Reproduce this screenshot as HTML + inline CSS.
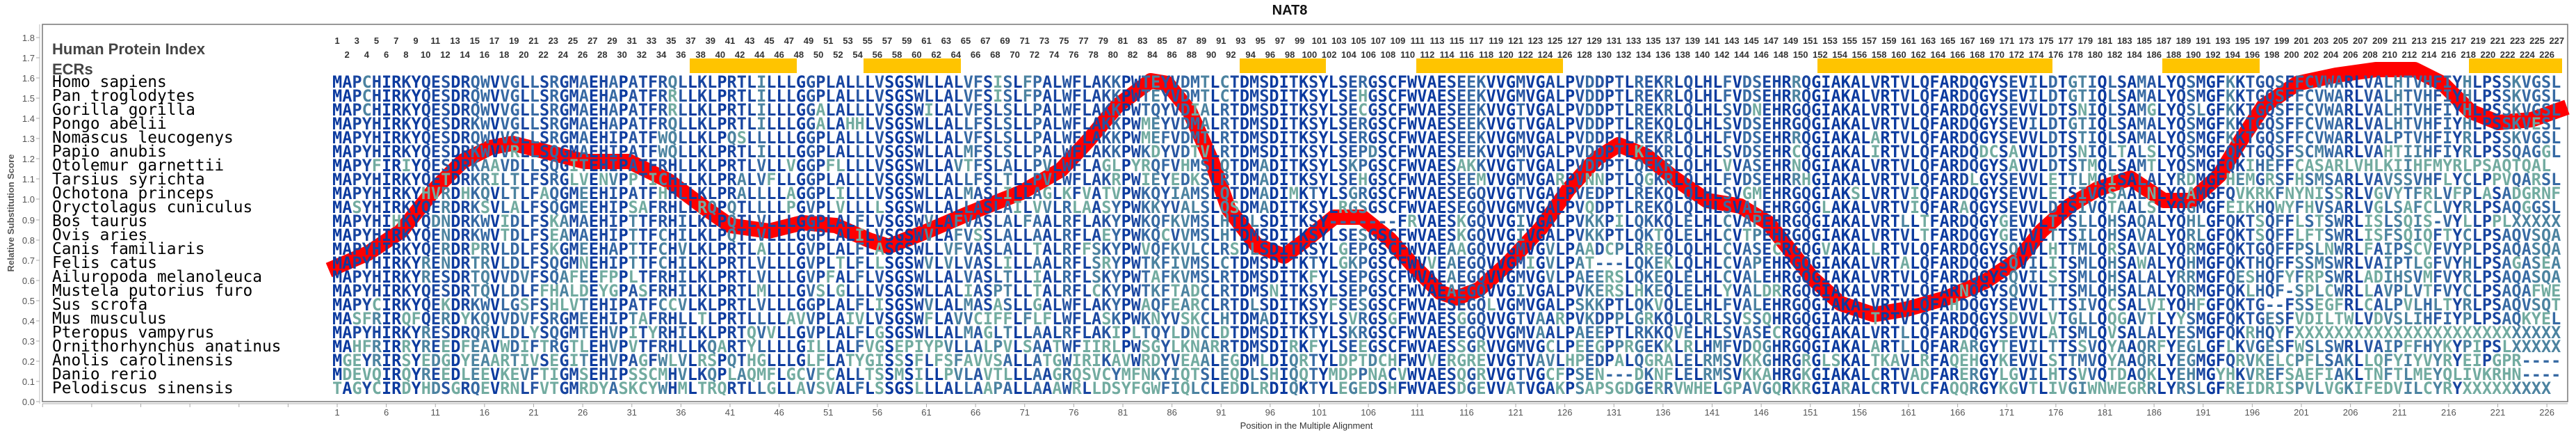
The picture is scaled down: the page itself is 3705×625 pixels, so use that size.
<!DOCTYPE html>
<html><head><meta charset="utf-8">
<style>
html,body{margin:0;padding:0;background:#fff;}
body{width:3705px;height:625px;position:relative;overflow:hidden;font-family:"Liberation Sans",sans-serif;}
svg{position:absolute;left:0;top:0;}
.seg{position:absolute;top:108px;font-family:"DejaVu Sans Mono",monospace;font-weight:bold;font-size:23.55px;line-height:20px;white-space:pre;overflow:hidden;color:#2a5aa0;}
.names{position:absolute;left:75px;top:108px;font-family:"DejaVu Sans Mono",monospace;font-size:22.8px;line-height:20px;white-space:pre;color:#000;}
</style></head><body>
<svg width="3705" height="625" xmlns="http://www.w3.org/2000/svg">
<rect x="61" y="35" width="3632" height="542" fill="none" stroke="#777" stroke-width="1.5"/>
<line x1="57" y1="35" x2="57" y2="580" stroke="#bbb" stroke-width="1"/>
<line x1="61" y1="580" x2="3693" y2="580" stroke="#aaa" stroke-width="1"/>
<g stroke="#aaa" stroke-width="1">
<line x1="52" y1="577" x2="57" y2="577"/><line x1="52" y1="548" x2="57" y2="548"/><line x1="52" y1="519" x2="57" y2="519"/><line x1="52" y1="490" x2="57" y2="490"/><line x1="52" y1="461" x2="57" y2="461"/><line x1="52" y1="432" x2="57" y2="432"/><line x1="52" y1="403" x2="57" y2="403"/><line x1="52" y1="374" x2="57" y2="374"/><line x1="52" y1="345" x2="57" y2="345"/><line x1="52" y1="316" x2="57" y2="316"/><line x1="52" y1="286" x2="57" y2="286"/><line x1="52" y1="257" x2="57" y2="257"/><line x1="52" y1="228" x2="57" y2="228"/><line x1="52" y1="199" x2="57" y2="199"/><line x1="52" y1="170" x2="57" y2="170"/><line x1="52" y1="141" x2="57" y2="141"/><line x1="52" y1="112" x2="57" y2="112"/><line x1="52" y1="83" x2="57" y2="83"/><line x1="52" y1="54" x2="57" y2="54"/>
</g>
<g id="xt" stroke="#aaa" stroke-width="1"></g>
<g fill="#ffc400">
<rect x="992" y="84" width="154" height="21"/>
<rect x="1242" y="84" width="140" height="21"/>
<rect x="1783" y="84" width="124" height="21"/>
<rect x="2037" y="84" width="211" height="21"/>
<rect x="2614" y="84" width="338" height="21"/>
<rect x="3110" y="84" width="140" height="21"/>
<rect x="3551" y="84" width="134" height="21"/>
</g>
<polyline fill="none" stroke="#ff0000" stroke-width="22" stroke-linejoin="round" points="473,388 529,364 577,332 625,272 665,232 705,212 737,206 777,216 841,232 905,232 962,260 1010,296 1050,324 1106,332 1154,320 1202,324 1250,345 1278,354 1334,332 1390,308 1470,276 1526,244 1567,200 1607,152 1655,116 1679,120 1711,160 1743,232 1767,300 1807,352 1847,368 1879,344 1919,312 1959,312 1999,344 2031,380 2071,420 2095,428 2127,416 2167,380 2216,328 2256,272 2296,228 2328,208 2368,224 2408,256 2455,288 2503,296 2543,320 2575,360 2607,400 2647,436 2695,452 2743,444 2800,428 2856,404 2904,372 2936,332 2976,296 3016,272 3064,256 3112,288 3152,288 3192,252 3224,200 3256,152 3304,120 3360,108 3417,100 3473,100 3513,120 3553,160 3593,176 3641,172 3692,154"/>
<g font-family="Liberation Sans" font-size="13" fill="#555" text-anchor="end">
<text x="50" y="582">0.0</text><text x="50" y="553">0.1</text><text x="50" y="524">0.2</text><text x="50" y="495">0.3</text><text x="50" y="466">0.4</text><text x="50" y="437">0.5</text><text x="50" y="408">0.6</text><text x="50" y="379">0.7</text><text x="50" y="350">0.8</text><text x="50" y="321">0.9</text><text x="50" y="291">1.0</text><text x="50" y="262">1.1</text><text x="50" y="233">1.2</text><text x="50" y="204">1.3</text><text x="50" y="175">1.4</text><text x="50" y="146">1.5</text><text x="50" y="117">1.6</text><text x="50" y="88">1.7</text><text x="50" y="59">1.8</text>
</g>
<text x="20" y="306" transform="rotate(-90 20 306)" font-family="Liberation Sans" font-size="13" font-weight="bold" fill="#555" text-anchor="middle">Relative Substitution Score</text>
<text x="1855" y="21" font-family="Liberation Sans" font-size="20" font-weight="bold" fill="#111" text-anchor="middle">NAT8</text>
<text x="1879" y="616" font-family="Liberation Sans" font-size="13" fill="#333" text-anchor="middle">Position in the Multiple Alignment</text>
<g id="xl" font-family="Liberation Sans" font-size="13" fill="#555" text-anchor="middle"></g>
<g id="hn" font-family="Liberation Sans" font-size="13" font-weight="bold" fill="#333" text-anchor="middle"></g>
<text x="75" y="78" font-family="Liberation Sans" font-size="22" font-weight="bold" fill="#444">Human Protein Index</text>
<text x="75" y="107" font-family="Liberation Sans" font-size="22" font-weight="bold" fill="#444">ECRs</text>
</svg>
<div class="names">Homo sapiens
Pan troglodytes
Gorilla gorilla
Pongo abelii
Nomascus leucogenys
Papio anubis
Otolemur garnettii
Tarsius syrichta
Ochotona princeps
Oryctolagus cuniculus
Bos taurus
Ovis aries
Canis familiaris
Felis catus
Ailuropoda melanoleuca
Mustela putorius furo
Sus scrofa
Mus musculus
Pteropus vampyrus
Ornithorhynchus anatinus
Anolis carolinensis
Danio rerio
Pelodiscus sinensis</div>
<div class="seg" id="sA" style="left:478px;width:752px">MAPCHIRKYQESDRQWVVGLLSRGMAEHAPATFRQLLKLPRTLILLLGGPLAL
MAPCHIRKYQESDRQWVVGLLSRGMAEHAPATFRRLLKLPRTLILLLGGPLAL
MAPCHIRKYQESDRQWVVGLLSRGMAEHAPATFRRLLKLPRTLILLLGGALAL
MAPYHIRKYQESDRKWVVGLLSRGMAEHAPATFRQLLKLPRTLILLLGGALAH
MAPYHIRKYQESDRQWVVGLLSRGMAEHIPATFWQLLKLPQSLLLLLGGPLAL
MAPYHIRKYQESDRKWVVRLLSQGMAEHIPATFWQLLKLPRTLILLLGGPLAL
MAPYFIRIYQESDRKAAVDLLSQGITEHIPATFRHLLKLPRTLVLLVGGPFLL
MAPYHIRKYQETDRKRILTLFSRGLVENVPPTICHLLKLPRALVFLLGGPLAL
MAPYHIRKYHVRDHKQVLTLFAQGMEEHIPATFHHLLKLPRALLLLAGGPLIL
MASYHIRKYQERDRKSVLALFSQGMEEHIPSAFRHLLRQPQTLLLLPGVPLVL
MAPYHIHKYQDNDRKWVIDLFSKAMAEHIPTTFRHILKLPQTLVLLLGGPLAL
MAPYHIRKYQENDRKWVTDLFSEAMAEHIPTTFCHILKLPQTLVLLLGGPLAL
MAPYHIRKYQERDRPRVLDLFSKGMEEHAPTTFCHVLKLPRTLALLLGVPLAL
MAPYHIRKYRENDRTRVLDLFSQGMNEHIPTTFCHILKLPRTLVLLLGVPLTL
MAPYHIRKYRESDRTQVVDVFSQAFEEFPPLTFRHILKLPRTLVLLLGVPFAL
MAPYHIRKYQESDRTQVLDLFFHALDEYGPASFRHILKLPRTLMLLLGVSLGL
MAPYCIRKYQEKDRKWVLGSFSHLVTEHIPATFCCVLKLPRTLVLLLGGPLAL
MASFRIRQFQERDYKQVVDVFSRGMEEHIPTAFRHLLTLPRTLLLLAVVPLAI
MAPYHIRKYRESDRQRVLDLYSQGMTEHVPITYRHILKLPRTQVVLLGVPLAL
MAHFRIRRYREEDFEAVWDIFTRGTLEHVPVTFRHLLKQARTYLLLLGILLAL
MGEYRIRSYEDGDYEAARTIVSEGITEHVPAGFWLVLRSPQTHGLLLGLFLAT
MDEVQIRQYREEDLEEVKEVFTIGMSEHIPSSCMHVLKQPLAQMFLGCVFCAL
TAGYCIRDYHDSGRQEVRNLFVTGMRDYASKCYWHMLTRQRTLLGLLAVSVAL</div>
<div class="seg" id="sB" style="left:1229.5px;width:1220px">LLVSGSWLLALVFSISLFPALWFLAKKPWTEYVDMTLCTDMSDITKSYLSERGSCFWVAESEEKVVGMVGALPVDDPTLREKRLQLF
LLVSGSWLLALVFSISLFPALWFLAKKPWTEYVDMTLCTDMSDITKSYLSEHGSCFWVAESEEKVVGMVGALPVDDPTLREKRLQLF
LLVSGSWILALVFSLSLLPALWFLAKKPWTQYVDIALRTDMSDITKSYLSECGSCFWVAESEEKVVGTVGALPVDDPTLREKRLQLF
HLVSGSWLLALLFSLSLLPALWFLAKKPWMEYVDMALRTDMSDITKSYLSERGSCFWVAESEEKVVGTVGALPVDDPTLREKQLQLF
LLVSGSWLLALVFSLSLLPALWFLAKKPWMEFVDMTLRTDMSDITKSYLSERGSCFWVAESEEKVVGMVGALPVDDPTLREKRLQLF
LLVSGSWLLALMFSLSLLPALWFLAKKPWKDYVDTVLRTDMSDITKSYLSEPDSCFWVAESEEKVVGMVGALPVDDPTLKEKRLQLF
LLVSGSWLLAVTFSLALLPVLWFLAGLPYRQFVHMSLQTDMADITKSYLSKPGSCFWVAESAKKVVGTVGALPVDDPTLQEKRLQLF
LLVSGSWLLALLFSLTLLPVLWFLAKRPWIEYEDKSLRTDMADITKSYLSEHGSCFWVAESEEMVVGMVGARPVNNPTLQGKRLQLF
LLVSGSWLLALMASLILLAGLKFVATVPWKQYIAMSLQTDMADIMKTYLSGRGSCFWVAESEGQVVGTVGALPVEDPTLREKQLQLF
LLLSGSWLLALLASLAILVVLRLAASYPWKKYVALSLQSDMADITKSYLRGSGSCFWVAESEGQVVGMVGALPVQDPTLREKQLQLF
FLVSGSWVLAFVASLALFAALRFLAKYPWKQFKVMSLHTDLSDITKSY-------FRVAESKGQVVGIVGALPVKKPILQKKQLELL
ILVSGSWVLAFVSSLALLAALRFLAEYPWKQCVVMSLHTDMSDITKSYLSESGSCFWVAESKGQVVGIVGALPVKKPTLQKTQLELL
FLASGSWLLVFVASLALLTALRFFSKYPWVQFKVLCLRSDLSDITKSYLGEPGSCFWVAEAAGQVVGMVGVLPAADCPLRREQLQLF
FLLSGSWVLVLVASLILLAALRFLSRYPWTKFIVMSLCTDMSDITKTYLGKPGSCFWVVEAEGQVVGMIGVLPAT---LQKEKLQLL
FLVSGSWLLALVASLTLLIALRFLSKYPWTAFKVMSLRTDMSDITKFYLSEPGSCFWVAEAEGQVVGMVGVLPAEERSLQKEQLELF
LLVSGSWLLALIASPTLLTALRFLCKYPWTKFTADCLRTDMSNITKSYLSEPGSCFWVAEAEGQVVGIVGALPVKERSLHKEQLELL
FLISGSWVLALMASASLLGALWFLAKYPWAQFEARCLRTDLSDITKSYFSESGSCFWVAESEGQLVGMVGALPSKKPTLQKVQLELL
VLVSGSWFLAVVCIFFLFLFLWFLASKPWKNYVSKCLHTDMADITKSYLSVRGSGFWVAESGGQVVGTVAARPVKDPPLGRKQLQLF
FLGSGSWLLALMAGLTLLAALRFLAKIPLTQYLDNCLDTDMSDITKTYLSKRGSCFWVAESEGQVVGMVAALPAEEPTLRKKQVELF
FVGSEPIYPVLLALPVLSAATWFIIRLPWSGYLKNARRTDMSDIRKFYLSEEGSCFWVAESSGRVVGMVGCLPEEGPPRGEKKLRLL
YGISSSFLFSFAVVSALLATGWIRIKAVWRDYVEAALEGDMLDIQRTYLDPTDCHFWVVERGREVVGTVAVLHPEDPALQGRALELK
LTSSMSILLPVLAVTLLLAAGRQSVCYMFNKYIQTSLEQDLSHIQQTYMDPPNACVWVAESQGRVVGTVGCFPSEN---DKNFLELK
FLSSGSLLLALLAAPALLAAAWRLLDSYFGWFIQLCLEDDLRDIQKTYLEGEDSHFWVAESDGEVVATVGAKPSAPSGDGERRVWHA</div>
<div class="seg" id="sC" style="left:2449px;width:1237px">HLFVDSEHRRQGIAKALVRTVLQFARDQGYSEVILDTGTIQLSAMALYQSMGFKKTGQSFFCVWARLVALHTVHFIYHLPSSKVGSL
HLFVDSEHRRQGIAKALVRTVLQFARDQGYSEVILDTGTIQLSAMALYQSMGFKKTGQSFFCVWARLVALHTVHFIYHLPSSKVGSL
HLSVDNEHRGQGIAKALVRTVLQFARDQGYSEVVLDTSNIQLSAMGLYQSLGFKKTGQSFFCVWARLVALHTVHFIYHLPSSKVGSL
HLSVDSEHRGQGIAKALVRTVLQFARDQGYSEVILDTGTIQLSAMALYQSMGFKKTGQSFFCVWARLVALHTVHFIYHLPSSKVESL
HLFVDSEHRRQGIAKALARTVLQFARDQGYSEVVLDTSTIQLSAMALYQSMGFKKTGQSFFCVWARLVALPTVHFIYRLPSSKVGSL
HLSVDSEHRCQGIAKALIRTVLQFARDQDCSAVVLDTSNIQLTALSLYQSMGFQKTGQSFSCMWARLVAHTIIHFIYRLPSSQAGGL
HLVVASEHRNQGIAKALVRTVLQFARDQGYSAVVLDTSTMQLSAMTLYQSMGFQKIHEFFCASARLVHLKIIHFMYRLPSAQTQAL
HLFVDSEHRRHGIAKALVRTVLQFARDLGYSEVVLETTLMQISALALYRDMGFHEMGRSFHSMSARLVAVSSVHFLYCLPPVQARSL
HLSVGMEHRGQGIAKSLVRTVIQFARDQGYSEVVLETSIVQSAALNLYQAMGFQVKRKFNYNISSRLVGVYTFRLVFPLASADGRNF
HLSVALEHRGQGLAKALVRTVIQFARAQGYSEVVLDTSIVQTAALSLYQGMGFEIKHQWYFHVSARLVGLSAFCLVYRLPSAQGGSL
HLCVAPEHRGQGIAKALVRTLLTFARDQGYGEVVLTTSLLQHSAQALYQHLGFQKTSQFFLSTSWRLISLSQIS-VYLLPPLXXXXX
HLCVTPEHRGQGIAKALVRTVLTFARDQGYGEVVLTTSILQHSAVALYQRLGFQKTSQFFLFTSWRLISFSQIQFTYCLPSAQVSQA
HLCVASECRGQGVAKALLRTVLQFARDQGYSQVVLHTTMLQRSAVALYQRMGFQKTGQFFPSLNWRLFAIPSCVFVYPLPSAQASQA
HLCVAPEHRGQGIAKALVRTALQFARDQGYSQVILITSMLQHSAWALYQHMGFQKTHQFFSSMSWRLVAIPTLGFVYHLPSAGASEA
HLCVALEHRGQGIAKALVRTVLQFARDQGYSQVILSTSMLQHSALALYRRMGFQESHQFYFRPSWRLADIHSVMFVYRLPSAQASQA
HLYVALDRRGQGIAKALVRTVLQFARNQGYSQVVLTTSMLQHSALALYQRMGFQKLHQF-SPLCWRLLAVPLVTFVYCLPSAQAFWE
HLFVALEHRGQGIAKALVRTVLQFAHDQGYSEVVLTTSIVQCSALVIYQHFGFQKTG--FSSEGFRLCALPVLHLTYRLPSAQVSQT
RLSVSSQHRGQGIAKALTRTVLQFARDQGYSDVVLVTGLLQQGAVTLYYSMGFQKTGESFVDILTWLVDVSLIHFIYPLPSAQKYEL
HLSVASECRGQGIAKALVRTLLQFARDQGYSEVVLATSMLQVSALALYESMGFQKRHQYFXXXXXXXXXXXXXXXXXXXXXXXXXXX
HMFVDQGHRGQGIAKALARTLLQFARARGYTEVILTTSSVQYAAQRFYEGLGFLKVGESFWSLSWRLVAIPFFHYKYPIPSLXXXXX
RMSVKKGHRGRGLSKALTKAVLRFAQEHGYKEVVLSTTMVQYAAQRLYEGMGFQRVKELCPFLSAKLLQFYIYVYRYEIPGPR----
RMSVKKAHRGKGIAKALCRTVADFARERGYLGVILHTSVVQTDAQKLYEHMGYHKVREFSAEFIAKLTNFTLMEYQLIVKRHN----
ELGPAVGQRKRGIARALCRTVLCFAQQRGYKGVTLIVGIWNWEGRRLYRSLGFREIDRISPVLVGKIFEDVILCYRYXXXXXXXXX</div>
<script>
(function(){
var NS="http://www.w3.org/2000/svg";
var xl=document.getElementById('xl'),xt=document.getElementById('xt'),hn=document.getElementById('hn');
for(var n=1;n<=227;n++){
 var x=485+(n-1)*14.125;
 var t=document.createElementNS(NS,'text');t.setAttribute('x',x.toFixed(1));t.setAttribute('y',n%2?63:83);t.textContent=n;hn.appendChild(t);
 if(n<=226&&(n-1)%5==0){var l=document.createElementNS(NS,'text');l.setAttribute('x',x.toFixed(1));l.setAttribute('y',597);l.textContent=n;xl.appendChild(l);}
}
for(var x=485-6*70.625;x<3693;x+=70.625){if(x<61)continue;var ln=document.createElementNS(NS,'line');ln.setAttribute('x1',x);ln.setAttribute('x2',x);ln.setAttribute('y1',580);ln.setAttribute('y2',585);xt.appendChild(ln);}
var cols=['#0b3a9f','#1845a0','#2755a2','#376aa3','#4c83a0','#72aba0'];
['sA','sB','sC'].forEach(function(id){
 var el=document.getElementById(id);var rows=el.textContent.split('\n');
 var L=0;rows.forEach(function(r){L=Math.max(L,r.length);});
 var html=[];
 var cnt=[];for(var c=0;c<L;c++){var m={};rows.forEach(function(r){var ch=r[c]||'';m[ch]=(m[ch]||0)+1;});cnt.push(m);}
 rows.forEach(function(r){
  var s='';for(var c=0;c<r.length;c++){var ch=r[c];var f=cnt[c][ch]/rows.length;
   var k=f>=0.85?0:f>=0.65?1:f>=0.45?2:f>=0.25?3:f>=0.12?4:5;
   if(ch=='-')k=3;
   s+='<span style="color:'+cols[k]+'">'+ch+'</span>';}
  html.push(s);
 });
 el.innerHTML=html.join('\n');
});
})();
</script>
</body></html>
